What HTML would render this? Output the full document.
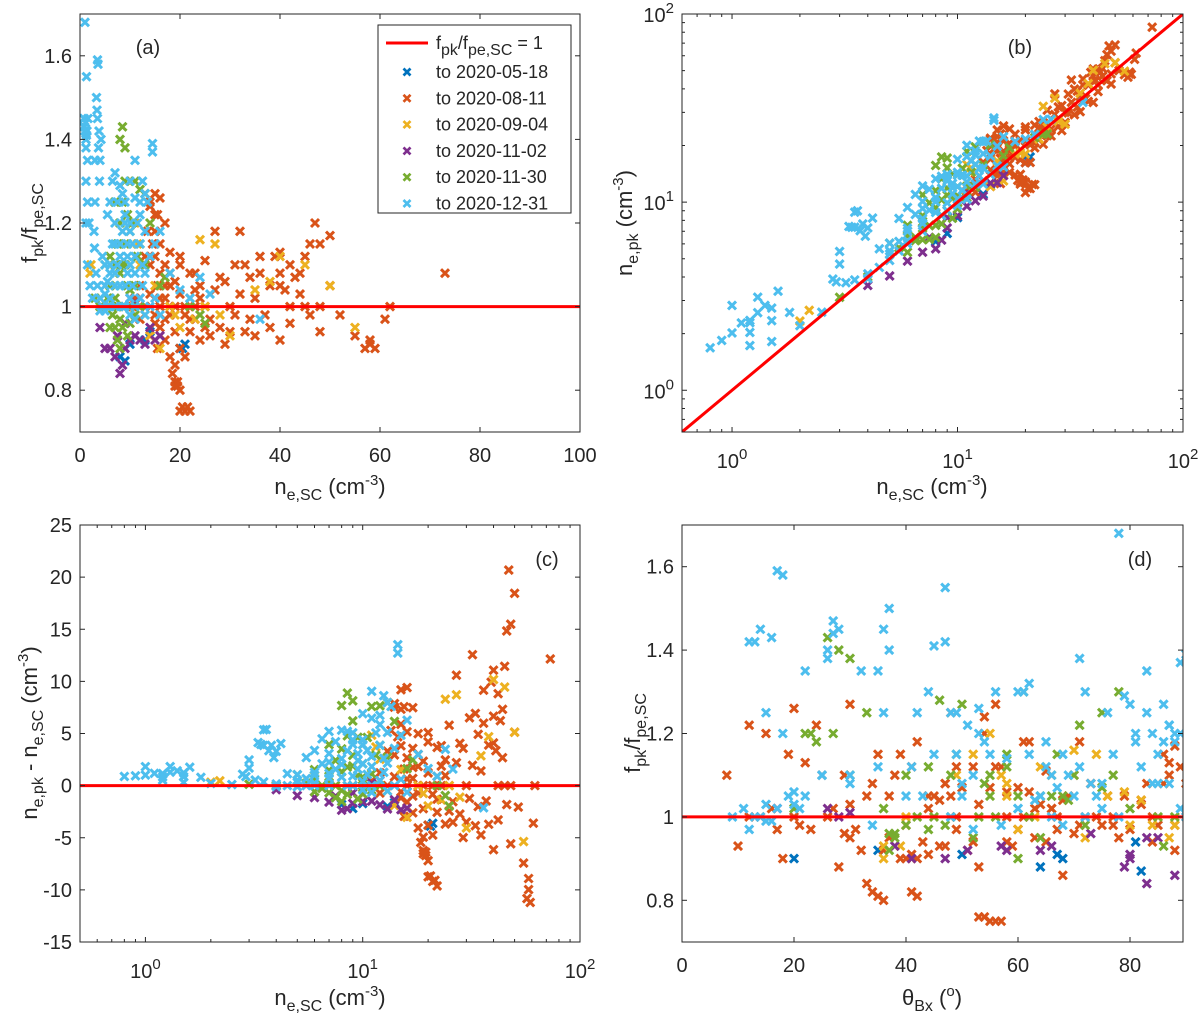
<!DOCTYPE html>
<html><head><meta charset="utf-8"><style>
html,body{margin:0;padding:0;background:#fff;}
svg{display:block;font-family:"Liberation Sans",Arial,sans-serif;}
</style></head><body>
<svg id="fig" width="1200" height="1028" viewBox="0 0 1200 1028" xmlns="http://www.w3.org/2000/svg"></svg>
<script>
// ---- data: [ne_SC (cm^-3), f_pk/f_pe,SC, theta_Bx (deg)] ----
const seriesNames = ["to 2020-05-18","to 2020-08-11","to 2020-09-04","to 2020-11-02","to 2020-11-30","to 2020-12-31"];
const bluePts = [[8,0.88,64],[9,0.87,82],[14,0.94,81],[20,0.9,68],[21,0.91,67],[20.5,0.9,20],[13,0.92,35],[10,0.91,50]];
const orangePts = [[14,1.25,48],[15,1.22,24],[13.5,1.18,62],[14.5,1.15,35],[15,1.12,52],[14,1.1,70],[16,1.08,47],[15.5,1.05,76],[14,1.03,30],[13,1.0,84],[15,0.98,40],[16,1.0,58],[17,1.02,66],[18,1.05,45],[19,1.0,12],[20,1.03,53],[21,0.98,88],[22,1.02,27],[23,1.0,72],[24,1.05,33],[25,1.0,61],[26,0.97,80],[17,1.1,38],[18,1.13,22],[20,1.12,57],[22,1.08,86],[24,1.02,44],[27,1.04,68],[28,1.07,50],[30,1.0,14],[32,1.03,64],[33,1.1,29],[34,1.07,55],[36,1.12,89],[38,1.05,37],[40,1.08,73],[41,1.04,46],[42,1.1,25],[43,1.07,60],[44,1.03,82],[45,1.12,49],[46,1.15,19],[47,1.2,54],[42,1.0,67],[40,1.13,87],[39,1.12,41],[35,1.02,16],[37,0.98,75],[30,0.94,43],[31,0.98,21],[28,0.95,63],[26,0.93,46],[25,0.95,78],[24,0.92,36],[22,0.94,58],[23,0.97,17],[19,0.94,84],[20,0.9,39],[18,0.88,28],[18.5,0.84,33],[19,0.82,34],[19.5,0.81,35],[20,0.8,36],[20.5,0.76,54],[21,0.75,55],[22,0.75,56],[21.5,0.76,53],[20,0.75,57],[29,0.91,44],[33,0.94,65],[35,0.93,59],[40,0.92,88],[42,0.96,70],[48,0.94,52],[57,0.9,42],[58,0.91,41],[59,0.9,40],[58,0.92,51],[62,1.0,77],[61,0.97,23],[73,1.08,47],[50,1.05,69],[52,0.98,85],[14,0.93,10],[16,0.95,37],[15.5,0.9,18],[17,0.92,32],[11,1.02,66],[12,1.05,48],[13,1.12,56],[12,0.97,31],[10.5,1.0,74],[27,1.18,61],[32,1.18,42],[36,1.08,90],[40,1.05,79],[45,1.0,26],[46,0.98,71],[44,1.08,83],[55,0.93,47],[20,1.1,8],[23,1.08,34],[29,1.06,62],[31,1.1,87],[34,0.97,49],[38,0.95,30],[25,1.11,65],[18,1.0,20],[17,0.97,60],[48,1.0,90],[19.5,0.82,41],[19,0.81,42],[19,0.86,68],[21,0.88,53],[17,1.2,15],[16,1.26,20],[15.5,1.22,12],[14,1.24,54],[48,1.15,86],[50,1.17,88],[15,1.27,56],[13,1.27,30],[15,1.18,71],[16,1.02,63],[17,1.05,44],[18,0.98,77],[19,1.06,58],[21,1.0,49],[22,0.97,67],[23,1.04,82],[16,1.15,39],[15,0.96,29],[18,1.08,73]];
const yellowPts = [[11,1.2,55],[11.5,1.15,52],[12,1.1,49],[15,1.05,58],[18,1.0,63],[19,0.98,80],[20,0.95,72],[23,0.97,60],[30,0.93,36],[35,1.04,82],[38,1.06,79],[45,1.1,66],[50,1.05,76],[55,0.95,87],[13,0.98,88],[14,0.93,39],[2,1.08,58],[2.2,1.1,57],[16,0.9,36],[25,1.0,40],[28,0.98,84],[24,1.16,70],[27,1.15,74],[40,1.12,64]];
const purplePts = [[8,0.84,83],[7,0.88,79],[6,0.9,80],[9,0.9,47],[10,0.92,51],[11,0.93,57],[12,0.92,64],[13,0.91,80],[14,0.95,85],[9,0.96,73],[10,1.02,17],[12,1.02,26],[5,0.9,41],[16,0.93,38],[4,0.95,83],[8.5,0.86,88],[15,0.92,58],[7.5,0.93,66],[9,1.0,28],[11,1.01,30]];
const greenPts = [[5,1.1,40],[6,1.05,55],[6.5,1.0,42],[7,0.95,38],[7.5,0.92,37],[8,0.9,60],[8.5,0.95,52],[9,1.0,62],[9.5,1.05,66],[10,1.1,30],[8,1.2,22],[8.5,1.25,75],[9,1.3,78],[8,1.4,28],[8.5,1.43,26],[9,1.38,30],[11,1.3,61],[12,1.28,46],[13,1.27,50],[11,1.05,64],[12,1.0,88],[7,1.1,70],[7.5,1.15,67],[8,1.08,54],[6,1.12,44],[10,1.18,24],[10.5,1.2,27],[11.5,1.12,58],[12,1.15,49],[6.5,0.98,72],[7,1.02,80],[8.5,1.0,85],[9.5,0.93,86],[10,0.96,38],[11,0.98,40],[16,1.05,68],[17,1.07,75],[22,1.0,56],[24,0.98,47],[25,0.96,37],[3,1.02,20],[4,1.0,45],[9,1.1,48],[10,1.04,69],[13,1.1,77],[14,1.2,23],[7,1.05,60],[7.5,1.0,48],[8,0.97,44],[8.5,1.1,55],[9,1.15,58],[6,0.95,64],[5.5,1.02,36],[7,1.25,33],[9.5,1.22,71],[10,1.0,53]];
const cyanPts = [[0.8,1.45,14],[0.9,1.43,16],[1.0,1.42,12],[1.1,1.44,27],[1.2,1.40,26],[1.3,1.41,45],[1.4,1.42,13],[1.3,1.55,47],[1.6,1.45,36],[1.0,1.68,78],[3.5,1.59,17],[3.6,1.58,18],[3.3,1.5,37],[3.4,1.47,27],[3.5,1.45,28],[3.8,1.42,47],[3.7,1.38,26],[4.0,1.35,32],[4.2,1.4,37],[3.9,1.3,60],[1.2,1.38,71],[1.5,1.35,35],[1.2,1.3,72],[1.5,1.25,36],[1.8,1.2,81],[2.8,1.18,65],[2.9,1.14,58],[3.2,1.08,50],[3.5,1.05,43],[4,1.02,11],[4.5,1.0,13],[5,1.03,15],[5.5,1.06,20],[6,1.1,25],[6.5,1.15,49],[7,1.2,53],[7.5,1.25,49],[6.5,1.3,61],[7,1.32,62],[8,1.29,79],[8.5,1.27,86],[9,1.2,88],[9.5,1.15,85],[10,1.1,69],[10.5,1.05,64],[11,1.0,66],[11.5,1.2,84],[12,1.25,83],[12.5,1.3,56],[12,1.22,87],[13,1.27,80],[13.5,1.25,76],[8,1.05,70],[9,1.0,72],[10,0.98,68],[11,0.97,52],[12,1.02,89],[7,1.0,9],[6,1.02,17],[5,1.05,22],[5,1.1,30],[4.5,1.12,41],[16,1.18,54],[15,1.15,55],[24,1.07,67],[18,1.08,73],[20,1.04,63],[22,1.02,75],[14,1.0,78],[13,0.98,57],[10,1.18,88],[11,1.12,82],[9.5,1.08,84],[8,1.12,71],[12.5,1.1,66],[13,1.08,87],[15,1.02,60],[16,0.98,34],[26,1.03,20],[36,0.97,12],[9,1.25,42],[10,1.3,44],[11,1.26,53],[12.5,1.05,74],[14,1.12,65],[6,1.25,48],[5.5,1.22,51],[14.5,1.39,90],[14.5,1.37,89],[11,1.35,83],[10,1.2,89],[9,1.22,87],[8.5,1.18,86],[7,1.08,30],[6,1.0,14],[5,0.99,15],[4,0.99,16],[7,1.05,50],[7.5,1.1,52],[8,1.15,45],[8.5,1.0,48],[9,1.05,40],[9.5,1.12,35],[10,1.02,60],[10.5,1.15,62],[11,1.08,75],[7,1.15,68],[6,1.08,85],[5.5,1.0,90],[3,1.25,15],[3,1.35,22],[1.2,1.2,18],[1.5,1.1,25],[2,1.05,19],[2.5,1.02,21],[12,1.15,77],[13,1.18,81]];
const seriesColors = ["#0072BD","#D95319","#EDB120","#7E2F8E","#77AC30","#4DBEEE"];
const allSeries = [bluePts, orangePts, yellowPts, purplePts, greenPts, cyanPts];
const linTicksA = [0,20,40,60,80,100];
const ratioTicks = [0.8,1,1.2,1.4,1.6];
const diffTicks = [-15,-10,-5,0,5,10,15,20,25];
const thetaTicks = [0,20,40,60,80];

const NS = "http://www.w3.org/2000/svg";
const svg = document.getElementById('fig');
function el(tag, attrs, parent){ const e=document.createElementNS(NS,tag); for(const k in attrs) e.setAttribute(k,attrs[k]); (parent||svg).appendChild(e); return e; }
const AX="#262626";

function linScale(d0,d1,p0,p1){ return v=>p0+(v-d0)/(d1-d0)*(p1-p0); }
function logScale(d0,d1,p0,p1){ return v=>p0+(Math.log10(v)-Math.log10(d0))/(Math.log10(d1)-Math.log10(d0))*(p1-p0); }

const panels = {
  a:{x0:80,x1:580,y0:14,y1:432, sx:linScale(0,100,80,580), sy:linScale(0.7,1.7,432,14)},
  b:{x0:682,x1:1183,y0:14,y1:432, sx:logScale(0.6,100,682,1183), sy:logScale(0.6,100,432,14)},
  c:{x0:80,x1:580,y0:525,y1:942, sx:logScale(0.5,100,80,580), sy:linScale(-15,25,942,525)},
  d:{x0:682,x1:1183,y0:525,y1:942, sx:linScale(0,90,682,1186), sy:linScale(0.7,1.7,942,525)}
};

function setupPanel(key){
  const p=panels[key];
  const g=el('g',{});
  
  
  const cp=el('clipPath',{id:'clip-'+key},svg);
  el('rect',{x:p.x0,y:p.y0,width:p.x1-p.x0,height:p.y1-p.y0},cp);
  p.g=g;
  p.plot=el('g',{'clip-path':'url(#clip-'+key+')'},g);
  
  
}
const MS=4;
function marker(p, x, y, color, name){
  const m=el('path',{d:`M${x-MS},${y-MS}L${x+MS},${y+MS}M${x-MS},${y+MS}L${x+MS},${y-MS}`,stroke:color,'stroke-width':3,fill:'none'},p.plot);
  
  
}
function frame(p, name){
  const r=el('rect',{x:p.x0,y:p.y0,width:p.x1-p.x0,height:p.y1-p.y0,fill:'none',stroke:AX,'stroke-width':1},p.g);
  
  
}
function txt(x,y,s,opts,parent,name){
  const t=el('text',Object.assign({x:x,y:y,fill:'#262626','font-size':20},opts||{}),parent||svg);
  t.innerHTML=s;
  
  
  return t;
}
function xTicksLin(p, ticks, labels){
  ticks.forEach((v,i)=>{
    const x=p.sx(v);
    el('line',{x1:x,x2:x,y1:p.y1,y2:p.y1-5,stroke:AX},p.g);
    el('line',{x1:x,x2:x,y1:p.y0,y2:p.y0+5,stroke:AX},p.g);
    txt(x,p.y1+30,labels[i],{'text-anchor':'middle'},p.g,'x-tick-label');
  });
}
function yTicksLin(p, ticks, labels){
  ticks.forEach((v,i)=>{
    const y=p.sy(v);
    el('line',{x1:p.x0,x2:p.x0+5,y1:y,y2:y,stroke:AX},p.g);
    el('line',{x1:p.x1,x2:p.x1-5,y1:y,y2:y,stroke:AX},p.g);
    txt(p.x0-8,y+7,labels[i],{'text-anchor':'end'},p.g,'y-tick-label');
  });
}
const SUP=(s)=>`<tspan baseline-shift="9" font-size="15">${s}</tspan>`;
const SUB=(s)=>`<tspan baseline-shift="-6" font-size="16">${s}</tspan>`;
function logTicks(p, axis, lo, hi){
  for(let e=-1;e<=2;e++){
    for(let m=1;m<10;m++){
      const v=m*Math.pow(10,e); if(v<lo-1e-9||v>hi+1e-9) continue;
      const len=m===1?5:3;
      if(axis==='x'){const x=p.sx(v);
        el('line',{x1:x,x2:x,y1:p.y1,y2:p.y1-len,stroke:AX},p.g);
        el('line',{x1:x,x2:x,y1:p.y0,y2:p.y0+len,stroke:AX},p.g);
        if(m===1) txt(x,p.y1+36,`10${SUP(e)}`,{'text-anchor':'middle'},p.g,'x-tick-label');
      } else {const y=p.sy(v);
        el('line',{x1:p.x0,x2:p.x0+len,y1:y,y2:y,stroke:AX},p.g);
        el('line',{x1:p.x1,x2:p.x1-len,y1:y,y2:y,stroke:AX},p.g);
        if(m===1) txt(p.x0-8,y+8,`10${SUP(e)}`,{'text-anchor':'end'},p.g,'y-tick-label');
      }
    }
  }
}

['a','b','c','d'].forEach(setupPanel);
const A=panels.a,B=panels.b,C=panels.c,D=panels.d;

allSeries.forEach((pts,si)=>{
  const col=seriesColors[si];
  pts.forEach(pt=>{
    const ne=pt[0], r=pt[1], th=pt[2];
    const nepk=ne*r*r;
    marker(A, A.sx(ne), A.sy(r), col, 'point-a');
    marker(B, B.sx(ne), B.sy(nepk), col, 'point-b');
    marker(C, C.sx(ne), C.sy(nepk-ne), col, 'point-c');
    marker(D, D.sx(th), D.sy(r), col, 'point-d');
  });
});
[[A,0,100,1,1],[C,0.5,100,0,0],[D,0,90,1,1]].forEach(([p,x0,x1,y0,y1])=>{
  const l=el('line',{x1:p.sx(x0),x2:p.sx(x1),y1:p.sy(y0),y2:p.sy(y1),stroke:'#FF0000','stroke-width':3},p.plot);
  
  
});
{const l=el('line',{x1:B.sx(0.6),y1:B.sy(0.6),x2:B.sx(100),y2:B.sy(100),stroke:'#FF0000','stroke-width':3},B.plot);
 
 }

['a','b','c','d'].forEach(k=>frame(panels[k],'axes-box-'+k));
xTicksLin(A, linTicksA, linTicksA.map(String));
yTicksLin(A, ratioTicks, ["0.8","1","1.2","1.4","1.6"]);
logTicks(B,'x',0.6,100); logTicks(B,'y',0.6,100);
logTicks(C,'x',0.5,100);
yTicksLin(C, diffTicks, diffTicks.map(String));
xTicksLin(D, thetaTicks, thetaTicks.map(String));
yTicksLin(D, ratioTicks, ["0.8","1","1.2","1.4","1.6"]);

txt(148,54,'(a)',{'text-anchor':'middle'},svg,'panel-label-a');
txt(1020,54,'(b)',{'text-anchor':'middle'},svg,'panel-label-b');
txt(547,566,'(c)',{'text-anchor':'middle'},svg,'panel-label-c');
txt(1140,566,'(d)',{'text-anchor':'middle'},svg,'panel-label-d');

const neSC=`n${SUB('e,SC')} (cm${SUP('-3')})`;
txt(330,494,neSC,{'text-anchor':'middle','font-size':22},svg,'x-axis-title-a');
txt(932,494,neSC,{'text-anchor':'middle','font-size':22},svg,'x-axis-title-b');
txt(330,1005,neSC,{'text-anchor':'middle','font-size':22},svg,'x-axis-title-c');
txt(932,1005,`θ${SUB('Bx')} (${SUP('o')})`,{'text-anchor':'middle','font-size':22},svg,'x-axis-title-d');
const fr=`f${SUB('pk')}/f${SUB('pe,SC')}`;
txt(0,0,fr,{'text-anchor':'middle','font-size':22,transform:'translate(37,223) rotate(-90)'},svg,'y-axis-title-a');
txt(0,0,`n${SUB('e,pk')} (cm${SUP('-3')})`,{'text-anchor':'middle','font-size':22,transform:'translate(632,223) rotate(-90)'},svg,'y-axis-title-b');
txt(0,0,`n${SUB('e,pk')} - n${SUB('e,SC')} (cm${SUP('-3')})`,{'text-anchor':'middle','font-size':22,transform:'translate(37,733) rotate(-90)'},svg,'y-axis-title-c');
txt(0,0,fr,{'text-anchor':'middle','font-size':22,transform:'translate(640,733) rotate(-90)'},svg,'y-axis-title-d');

const lg=el('g',{});


el('rect',{x:378,y:25,width:193,height:188,fill:'#fff',stroke:AX,'stroke-width':1},lg);
el('line',{x1:386,x2:428,y1:43,y2:43,stroke:'#FF0000','stroke-width':3},lg);
txt(436,49,`f${SUB('pk')}/f${SUB('pe,SC')} = 1`,{'font-size':18},lg,'legend-entry-ref');
seriesNames.forEach((n,i)=>{
  const y=72+i*26.3;
  const m=el('path',{d:`M${407-3.5},${y-3.5}L${407+3.5},${y+3.5}M${407-3.5},${y+3.5}L${407+3.5},${y-3.5}`,stroke:seriesColors[i],'stroke-width':2.7,fill:'none'},lg);
  
  
  txt(436,y+6,n,{'font-size':18},lg,'legend-entry');
});
</script>
</body></html>
